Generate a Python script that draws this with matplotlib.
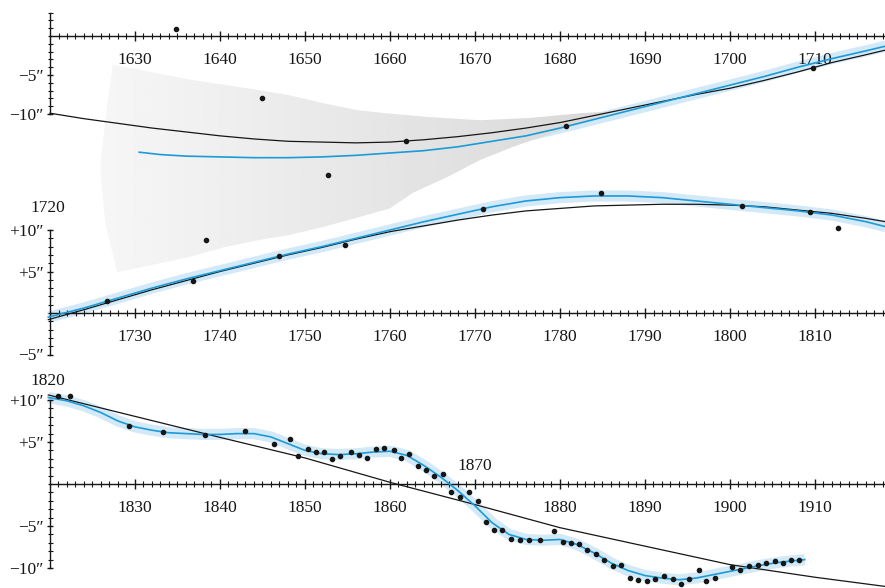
import numpy as np
import matplotlib
matplotlib.use('Agg')
import matplotlib.pyplot as plt
from matplotlib.patches import Polygon
from matplotlib.ticker import FixedLocator

plt.rcParams['font.family'] = ['Liberation Serif', 'DejaVu Serif']
plt.rcParams['font.size'] = 12

# ---------------- data: panel 1 (1620-1720) ----------------
p1_dot_years = [1634.8, 1644.9, 1652.7, 1638.4, 1661.9, 1680.7, 1709.8]
p1_dot_vals = [0.85, -7.9, -17.8, -26.2, -13.5, -11.6, -4.05]

p1_blue_years = [1630.5, 1633, 1636, 1640, 1644, 1648, 1652, 1656, 1660, 1664, 1668, 1672,
                 1676, 1680, 1684, 1688, 1692, 1696, 1700, 1704, 1708, 1712, 1716, 1718.3]
p1_blue_vals = [-14.9, -15.2, -15.4, -15.5, -15.6, -15.6, -15.5, -15.3, -15.0, -14.7, -14.2, -13.5,
                -12.8, -11.8, -10.7, -9.6, -8.5, -7.4, -6.3, -5.2, -4.0, -2.9, -1.9, -1.3]

p1_black_years = [1620, 1624, 1628, 1632, 1636, 1640, 1644, 1648, 1652, 1656, 1660, 1664, 1668,
                  1672, 1676, 1680, 1684, 1688, 1692, 1696, 1700, 1704, 1708, 1712, 1716, 1718.3]
p1_black_vals = [-9.9, -10.6, -11.2, -11.8, -12.3, -12.8, -13.2, -13.5, -13.6, -13.7, -13.6, -13.3, -12.9,
                 -12.4, -11.8, -11.1, -10.2, -9.3, -8.4, -7.5, -6.7, -5.7, -4.6, -3.4, -2.4, -1.8]

# uncertainty region (outline, clockwise)
gray_years = [1627.4, 1636.5, 1644.4, 1648.2, 1652.1, 1656.1, 1659.5, 1664.7, 1670.6, 1676.5, 1682.4, 1686.8,
              1680.8, 1678.5, 1674.5, 1670.6, 1666.7, 1662.7, 1660.0, 1656.1, 1652.1, 1648.2, 1644.4,
              1640.4, 1636.5, 1627.9, 1626.5, 1625.9, 1626.7]
gray_vals = [-3.7, -5.6, -6.9, -7.6, -8.6, -9.5, -9.9, -10.4, -10.8, -10.5, -9.9, -9.6,
             -11.8, -12.7, -14.2, -15.9, -18.1, -20.1, -22.1, -23.3, -24.5, -25.5, -26.2,
             -27.1, -28.3, -30.3, -24.0, -16.8, -9.1]

# ---------------- data: panel 2 (1720-1820) ----------------
p2_dot_years = [1726.7, 1736.8, 1746.9, 1754.7, 1770.9, 1784.8, 1801.4, 1809.4, 1812.7]
p2_dot_vals = [1.4, 3.8, 6.9, 8.2, 12.5, 14.5, 12.9, 12.2, 10.3]

p2_blue_years = [1719.8, 1724, 1728, 1732, 1736, 1740, 1744, 1748, 1752, 1756, 1760, 1764, 1768,
                 1772, 1776, 1780, 1784, 1788, 1792, 1796, 1800, 1804, 1808, 1812, 1816, 1818.3]
p2_blue_vals = [-0.5, 0.6, 1.8, 3.0, 4.1, 5.1, 6.1, 7.1, 8.0, 9.0, 10.0, 11.0, 11.9,
                12.8, 13.5, 13.9, 14.1, 14.1, 13.9, 13.5, 13.1, 12.7, 12.3, 11.8, 11.0, 10.4]

p2_black_years = p2_blue_years
p2_black_vals = [-0.8, 0.4, 1.6, 2.8, 3.9, 5.0, 6.0, 7.0, 7.9, 8.9, 9.8, 10.5, 11.2,
                 11.8, 12.3, 12.6, 12.9, 13.0, 13.1, 13.1, 13.0, 12.8, 12.4, 12.0, 11.4, 11.0]

# ---------------- data: panel 3 (1820-1920) ----------------
p3_dot_years = [1820.9, 1822.3, 1829.3, 1833.3, 1838.2, 1842.9, 1846.3, 1848.2, 1849.2,
                1850.3, 1851.3, 1852.2, 1853.2, 1854.1, 1855.4, 1856.3, 1857.3, 1858.4, 1859.3,
                1860.5, 1861.3, 1862.2, 1863.3, 1864.2, 1865.2, 1866.2, 1867.2, 1868.2, 1869.3,
                1870.3, 1871.3, 1872.2, 1873.2, 1874.2, 1875.3, 1876.3, 1877.7, 1879.3, 1880.3,
                1881.3, 1882.2, 1883.2, 1884.2, 1885.2, 1886.2, 1887.2, 1888.2, 1889.2, 1890.2,
                1891.2, 1892.2, 1893.3, 1894.2, 1895.2, 1896.3, 1897.2, 1898.2, 1900.2, 1901.2,
                1902.2, 1903.3, 1904.2, 1905.3, 1906.2, 1907.2, 1908.1]
p3_dot_vals = [10.5, 10.5, 6.9, 6.2, 5.8, 6.3, 4.8, 5.4, 3.3,
               4.2, 3.8, 3.8, 3.0, 3.3, 3.8, 3.5, 3.1, 4.2, 4.3,
               4.1, 3.1, 3.6, 2.1, 1.7, 1.0, 1.2, -0.9, -1.5, -1.0,
               -2.0, -4.5, -5.5, -5.5, -6.5, -6.7, -6.7, -6.7, -5.6, -6.9,
               -7.0, -7.1, -7.9, -8.3, -9.1, -9.8, -9.6, -11.2, -11.4, -11.6,
               -11.3, -10.9, -11.3, -11.9, -11.3, -10.2, -11.5, -11.2, -9.9, -10.2,
               -9.8, -9.6, -9.4, -9.2, -9.4, -9.0, -9.0]

p3_blue_years = [1819.8, 1822, 1824, 1826, 1828, 1830, 1832, 1834, 1836, 1838, 1840, 1842, 1844,
                 1846, 1848, 1850, 1852, 1854, 1856, 1858, 1860, 1862, 1864, 1866, 1868, 1870,
                 1872, 1874, 1876, 1878, 1880, 1882, 1884, 1886, 1888, 1890, 1892, 1894, 1896,
                 1898, 1900, 1902, 1904, 1906, 1908.8]
p3_blue_vals = [10.3, 9.9, 9.3, 8.5, 7.5, 6.8, 6.4, 6.1, 6.0, 5.9, 5.9, 6.0, 6.0,
                5.6, 4.8, 4.0, 3.6, 3.5, 3.6, 3.8, 3.9, 3.4, 2.2, 0.8, -0.8, -2.6,
                -4.6, -6.0, -6.6, -6.7, -6.6, -7.2, -8.2, -9.4, -10.3, -10.9, -11.2, -11.4, -11.2,
                -10.8, -10.4, -10.0, -9.6, -9.3, -9.0]

p3_black_years = [1819.8, 1830, 1840, 1850, 1860, 1870, 1880, 1890, 1900, 1910, 1918.3]
p3_black_vals = [10.6, 8.05, 5.55, 3.1, 0.2, -2.45, -5.2, -7.4, -9.6, -11.1, -12.2]

# ---------------- layout ----------------
W, H = 885, 588
PX_YEAR = 8.5
X_LEFT = 50
BLUE = '#1b9bd7'
BAND = '#d3e9f7'
INK = '#161616'

fig = plt.figure(figsize=(W / 100, H / 100), dpi=100)
fig.patch.set_facecolor('white')


def make_panel(start, y0_px, px_per_unit, ybounds, ymajor, ylabels, xlabel_skip=()):
    ax = fig.add_axes([0, 0, 1, 1])
    ax.patch.set_visible(False)
    x_right = start + (W - X_LEFT) / PX_YEAR
    ax.set_xlim(start - X_LEFT / PX_YEAR, x_right)
    ax.set_ylim((y0_px - H) / px_per_unit, y0_px / px_per_unit)
    ax.set_autoscale_on(False)
    for s in ('top', 'right'):
        ax.spines[s].set_visible(False)
    ax.spines['left'].set_position(('data', start))
    ax.spines['bottom'].set_position(('data', 0))
    ax.spines['left'].set_bounds(*ybounds)
    ax.spines['bottom'].set_bounds(start, x_right)
    for s in ('left', 'bottom'):
        ax.spines[s].set_linewidth(1.0)
        ax.spines[s].set_color(INK)
    majors = list(range(start + 10, start + 100, 10))
    ax.set_xticks(majors, ['' if m in xlabel_skip else str(m) for m in majors])
    ax.xaxis.set_minor_locator(FixedLocator(list(range(start, start + 99))))
    ax.set_yticks(ymajor, ylabels)
    ax.yaxis.set_minor_locator(FixedLocator(list(range(ybounds[0], ybounds[1] + 1))))
    ax.tick_params(axis='x', which='major', direction='inout', length=6.5, width=1.0,
                   pad=8.0, colors=INK, labelsize=12.5)
    ax.tick_params(axis='x', which='minor', direction='inout', length=4.3, width=0.8, colors=INK)
    ax.tick_params(axis='y', which='major', direction='inout', length=5.0, width=1.0,
                   pad=2.0, colors=INK, labelsize=12.5)
    ax.tick_params(axis='y', which='minor', direction='inout', length=3.6, width=0.8, colors=INK)
    return ax


ax1 = make_panel(1620, 36, 7.8, (-10, 3), [-10, -5], ['\u221210\u2033', '\u22125\u2033'])
ax2 = make_panel(1720, 313, 8.3, (-5, 10), [-5, 5, 10],
                 ['\u22125\u2033', '+5\u2033', '+10\u2033'])
ax3 = make_panel(1820, 484, 8.4, (-10, 10), [-10, -5, 5, 10],
                 ['\u221210\u2033', '\u22125\u2033', '+5\u2033', '+10\u2033'], xlabel_skip=(1870,))

BAND_LW = 8.0

# panel 1
ax1.plot(p1_blue_years, p1_blue_vals, color=BAND, lw=BAND_LW, solid_capstyle='butt', zorder=1)
poly = Polygon(np.column_stack([gray_years, gray_vals]), closed=True, facecolor='none',
               edgecolor='none', transform=ax1.transData)
ax1.add_patch(poly)
grad = np.linspace(0.965, 0.845, 256).reshape(1, -1)
img = ax1.imshow(grad, cmap='gray', vmin=0, vmax=1, aspect='auto', interpolation='bilinear',
                 extent=[min(gray_years), max(gray_years), min(gray_vals), max(gray_vals)],
                 zorder=2)
img.set_clip_path(poly)
ax1.set_xlim(1620 - X_LEFT / PX_YEAR, 1620 + (W - X_LEFT) / PX_YEAR)
ax1.set_ylim((36 - H) / 7.8, 36 / 7.8)
ax1.plot(p1_black_years, p1_black_vals, color=INK, lw=0.9, zorder=3)
ax1.plot(p1_blue_years, p1_blue_vals, color=BLUE, lw=1.2, zorder=4)
ax1.plot(p1_dot_years, p1_dot_vals, 'o', color=INK, ms=3, zorder=5)

# panel 2
ax2.plot(p2_blue_years, p2_blue_vals, color=BAND, lw=BAND_LW, solid_capstyle='butt', zorder=1)
ax2.plot(p2_black_years, p2_black_vals, color=INK, lw=0.9, zorder=3)
ax2.plot(p2_blue_years, p2_blue_vals, color=BLUE, lw=1.2, zorder=4)
ax2.plot(p2_dot_years, p2_dot_vals, 'o', color=INK, ms=3, zorder=5)
ax2.text(1719.8, 12.65, '1720', ha='center', va='center', fontsize=12.5, color=INK)

# panel 3
ax3.plot(p3_blue_years, p3_blue_vals, color=BAND, lw=BAND_LW, solid_capstyle='butt', zorder=1)
ax3.plot(p3_black_years, p3_black_vals, color=INK, lw=0.9, zorder=3)
ax3.plot(p3_blue_years, p3_blue_vals, color=BLUE, lw=1.2, zorder=4)
ax3.plot(p3_dot_years, p3_dot_vals, 'o', color=INK, ms=3, zorder=5)
ax3.text(1819.8, 12.26, '1820', ha='center', va='center', fontsize=12.5, color=INK)
ax3.text(1870.0, 2.15, '1870', ha='center', va='center', fontsize=12.5, color=INK)

fig.savefig('out.png', dpi=100, facecolor='white')
